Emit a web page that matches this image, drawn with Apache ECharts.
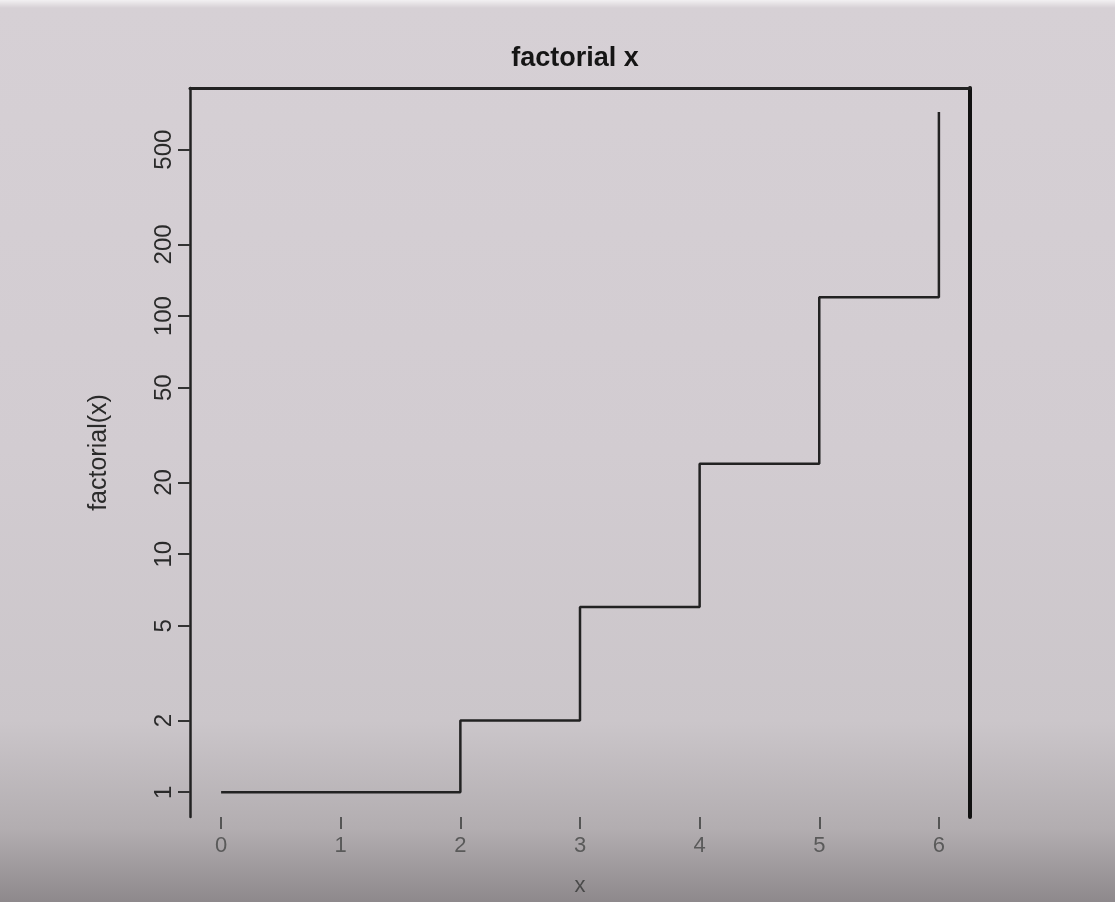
<!DOCTYPE html>
<html><head><meta charset="utf-8">
<script src="https://cdn.jsdelivr.net/npm/echarts@6/dist/echarts.min.js"></script>
<style>
html,body{margin:0;padding:0;}
#c{width:1115px;height:902px;background:linear-gradient(180deg,#f2f0f2 0px,#d6d0d5 8px,#d2ccd1 50%,#cbc6ca 80%,#b2adb0 92%,#8e898c 100%);}
</style></head>
<body><div id="c"></div>
<script>
const title = 'factorial x';
const xName = 'x';
const yName = 'factorial(x)';
const xs = [0, 1, 2, 3, 4, 5, 6];
const ys = [1, 1, 2, 6, 24, 120, 720];
const xTicks = [0, 1, 2, 3, 4, 5, 6];
const yTicks = [1, 2, 5, 10, 20, 50, 100, 200, 500];

const chart = echarts.init(document.getElementById('c'));
const fam = '"Liberation Sans", Arial, sans-serif';
chart.setOption({
  animation: false,
  backgroundColor: 'transparent',
  title: { text: title, left: 570, top: 40, textAlign: 'center',
    textStyle: { fontFamily: fam, fontWeight: 'bold', fontSize: 27, color: '#151515' } },
  grid: { left: 190, right: 145, top: 88, bottom: 80 },
  xAxis: [{
    type: 'value', min: -0.26, max: 6.26, position: 'bottom',
    name: xName, nameLocation: 'middle', nameGap: 58,
    nameTextStyle: { fontFamily: fam, fontSize: 22, color: '#4a4a4a' },
    axisLine: { show: false },
    axisTick: { show: true, length: 12, inside: false, customValues: xTicks, lineStyle: { color: '#555', width: 2 } },
    axisLabel: { customValues: xTicks, fontFamily: fam, fontSize: 22, color: '#5a5a5a', margin: 18 },
    splitLine: { show: false }
  }, {
    type: 'value', min: -0.26, max: 6.26, position: 'top',
    axisLine: { show: true, onZero: false, lineStyle: { color: '#222', width: 3 } },
    axisTick: { show: false }, axisLabel: { show: false }, splitLine: { show: false }
  }],
  yAxis: [{
    type: 'log', logBase: 10, min: 0.787, max: 908, position: 'left',
    name: yName, nameLocation: 'middle', nameGap: 78, nameRotate: 90,
    nameTextStyle: { fontFamily: fam, fontSize: 25, color: '#2a2a2a' },
    axisLine: { show: true, onZero: false, lineStyle: { color: '#222', width: 2.5 } },
    axisTick: { show: true, length: 12, customValues: yTicks, lineStyle: { color: '#333', width: 2 } },
    axisLabel: { customValues: yTicks, rotate: 90, fontFamily: fam, fontSize: 24, color: '#2a2a2a', margin: 14 },
    splitLine: { show: false }
  }, {
    type: 'log', logBase: 10, min: 0.787, max: 908, position: 'right',
    axisLine: { show: true, onZero: false, lineStyle: { color: '#111', width: 4 } },
    axisTick: { show: false }, axisLabel: { show: false }, splitLine: { show: false }
  }],
  series: [{
    type: 'line', step: 'end', xAxisIndex: 0, yAxisIndex: 0,
    data: xs.map((x, i) => [x, ys[i]]),
    showSymbol: false, symbol: 'none',
    lineStyle: { color: '#222', width: 2.5 }
  }]
});
</script></body></html>
